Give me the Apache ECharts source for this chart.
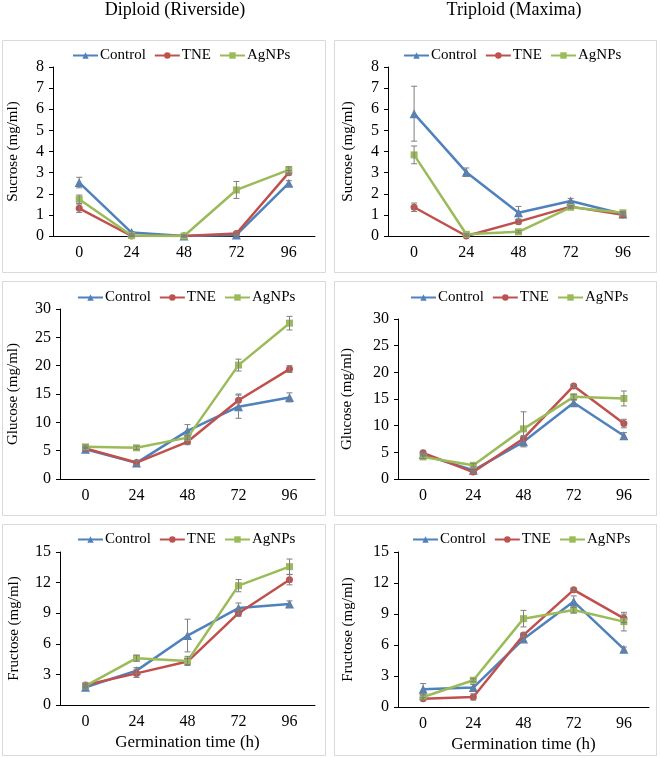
<!DOCTYPE html>
<html>
<head>
<meta charset="utf-8">
<script src="https://cdn.jsdelivr.net/npm/echarts@6/dist/echarts.min.js"></script>
<style>html,body{margin:0;padding:0;background:#fff}#c{width:660px;height:758px}</style>
</head>
<body>
<div id="c"></div>
<script>
// ---------- data ----------
const hours = ['0', '24', '48', '72', '96'];
const seriesNames = ['Control', 'TNE', 'AgNPs'];
const columnTitles = ['Diploid (Riverside)', 'Triploid (Maxima)'];
const yNames = ['Sucrose (mg/ml)', 'Glucose (mg/ml)', 'Fructose (mg/ml)'];
const xName = 'Germination time (h)';
const yMax = [8, 30, 15];
const yStep = [1, 5, 3];

// Sucrose, Diploid
const sucDipControl = [2.53, 0.16, 0.0, 0.05, 2.50];
const sucDipControlErr = [0.25, 0.05, 0.03, 0.05, 0.12];
const sucDipTNE = [1.31, 0.0, 0.0, 0.12, 3.00];
const sucDipTNEErr = [0.2, 0.03, 0.05, 0.08, 0.1];
const sucDipAgNPs = [1.74, 0.02, 0.0, 2.18, 3.13];
const sucDipAgNPsErr = [0.2, 0.03, 0.03, 0.4, 0.15];
// Sucrose, Triploid
const sucTriControl = [5.79, 3.02, 1.10, 1.66, 1.04];
const sucTriControlErr = [1.3, 0.2, 0.3, 0.12, 0.06];
const sucTriTNE = [1.36, 0.0, 0.68, 1.39, 1.00];
const sucTriTNEErr = [0.2, 0.03, 0.1, 0.05, 0.05];
const sucTriAgNPs = [3.84, 0.08, 0.20, 1.36, 1.10];
const sucTriAgNPsErr = [0.42, 0.03, 0.05, 0.05, 0.06];
// Glucose, Diploid
const gluDipControl = [5.26, 2.84, 8.5, 12.76, 14.4];
const gluDipControlErr = [0.3, 0.4, 1.1, 2.05, 0.8];
const gluDipTNE = [5.37, 2.9, 6.56, 13.9, 19.4];
const gluDipTNEErr = [0.3, 0.3, 0.5, 1.1, 0.6];
const gluDipAgNPs = [5.67, 5.5, 7.3, 20.1, 27.5];
const gluDipAgNPsErr = [0.3, 0.3, 0.4, 1.05, 1.2];
// Glucose, Triploid
const gluTriControl = [4.58, 1.63, 6.97, 14.3, 8.1];
const gluTriControlErr = [0.3, 0.3, 0.95, 0.5, 0.6];
const gluTriTNE = [4.9, 1.3, 7.6, 17.45, 10.4];
const gluTriTNEErr = [0.3, 0.3, 0.5, 0.3, 0.8];
const gluTriAgNPs = [4.14, 2.57, 9.4, 15.4, 15.1];
const gluTriAgNPsErr = [0.3, 0.3, 3.2, 0.5, 1.4];
// Fructose, Diploid
const fruDipControl = [1.74, 3.37, 6.81, 9.5, 9.9];
const fruDipControlErr = [0.15, 0.3, 1.6, 0.5, 0.3];
const fruDipTNE = [1.97, 3.1, 4.26, 9.0, 12.28];
const fruDipTNEErr = [0.15, 0.4, 0.3, 0.3, 0.5];
const fruDipAgNPs = [1.87, 4.59, 4.32, 11.7, 13.56];
const fruDipAgNPsErr = [0.15, 0.3, 0.45, 0.6, 0.75];
// Fructose, Triploid
const fruTriControl = [1.72, 1.88, 6.58, 10.2, 5.6];
const fruTriControlErr = [0.55, 0.3, 0.3, 0.55, 0.2];
const fruTriTNE = [0.81, 0.97, 6.96, 11.34, 8.58];
const fruTriTNEErr = [0.1, 0.3, 0.2, 0.15, 0.4];
const fruTriAgNPs = [0.97, 2.59, 8.55, 9.39, 8.26];
const fruTriAgNPsErr = [0.3, 0.15, 0.8, 0.3, 0.9];

const panelValues = [
  [[sucDipControl, sucDipTNE, sucDipAgNPs], [sucTriControl, sucTriTNE, sucTriAgNPs]],
  [[gluDipControl, gluDipTNE, gluDipAgNPs], [gluTriControl, gluTriTNE, gluTriAgNPs]],
  [[fruDipControl, fruDipTNE, fruDipAgNPs], [fruTriControl, fruTriTNE, fruTriAgNPs]]
];
const panelErrors = [
  [[sucDipControlErr, sucDipTNEErr, sucDipAgNPsErr], [sucTriControlErr, sucTriTNEErr, sucTriAgNPsErr]],
  [[gluDipControlErr, gluDipTNEErr, gluDipAgNPsErr], [gluTriControlErr, gluTriTNEErr, gluTriAgNPsErr]],
  [[fruDipControlErr, fruDipTNEErr, fruDipAgNPsErr], [fruTriControlErr, fruTriTNEErr, fruTriAgNPsErr]]
];

// ---------- layout / style ----------
const FONT = 'Liberation Serif';
const colors = ['#4F81BD', '#C0504D', '#9BBB59'];
const symbols = ['triangle', 'circle', 'rect'];
const symbolSizes = [9, 7, 7];
const grids = [
  [{left: 53, right: 345, top: 67, bottom: 522}, {left: 388, right: 11, top: 67, bottom: 522}],
  [{left: 60, right: 345, top: 309, bottom: 279}, {left: 398, right: 11, top: 319, bottom: 279}],
  [{left: 60, right: 345, top: 552, bottom: 53}, {left: 398, right: 11, top: 552, bottom: 51}]
];
const nameGaps = [[32, 32], [39, 43], [38, 42]];
const legendPos = [[{left: 72, top: 48}, {left: 403, top: 48}], [{left: 77, top: 290}, {left: 410, top: 290}], [{left: 77, top: 532}, {left: 412, top: 532}]];
const boxes = [[40, 272], [281, 515], [524, 755]];
const boxX = [[2, 325], [334, 656]];

const option = {
  animation: false,
  backgroundColor: '#ffffff',
  textStyle: {fontFamily: FONT},
  grid: [], xAxis: [], yAxis: [], series: [], legend: [], graphic: []
};

// panel borders
for (let r = 0; r < 3; r++) {
  for (let c = 0; c < 2; c++) {
    option.graphic.push({
      type: 'rect', silent: true, z: -10,
      shape: {x: boxX[c][0] + 0.5, y: boxes[r][0] + 0.5, width: boxX[c][1] - boxX[c][0], height: boxes[r][1] - boxes[r][0]},
      style: {fill: '#ffffff', stroke: '#D9D9D9', lineWidth: 1}
    });
  }
}
// column titles
[175, 514].forEach((cx, i) => {
  option.graphic.push({
    type: 'text', x: cx, y: 10,
    style: {text: columnTitles[i], font: '18px ' + FONT, fill: '#000', align: 'center', verticalAlign: 'middle'}
  });
});

function errRender(params, api) {
  const x = api.value(0), v = api.value(1), e = api.value(2);
  const top = api.coord([x, v + e]);
  const bot = api.coord([x, v - e]);
  const w = 3;
  const st = {stroke: '#7F7F7F', lineWidth: 1};
  return {
    type: 'group',
    children: [
      {type: 'line', shape: {x1: top[0], y1: top[1], x2: bot[0], y2: bot[1]}, style: st},
      {type: 'line', shape: {x1: top[0] - w, y1: top[1], x2: top[0] + w, y2: top[1]}, style: st},
      {type: 'line', shape: {x1: bot[0] - w, y1: bot[1], x2: bot[0] + w, y2: bot[1]}, style: st}
    ]
  };
}

let idx = 0;
for (let r = 0; r < 3; r++) {
  for (let c = 0; c < 2; c++) {
    option.grid.push(Object.assign({containLabel: false}, grids[r][c]));
    option.xAxis.push({
      type: 'category', gridIndex: idx, data: hours, boundaryGap: true,
      axisLine: {lineStyle: {color: '#000', width: 1}},
      axisTick: {show: false},
      axisLabel: {color: '#000', fontSize: 16, fontFamily: FONT, margin: 9},
      name: r === 2 ? xName : '', nameLocation: 'middle', nameGap: 29,
      nameTextStyle: {color: '#000', fontSize: 17, fontFamily: FONT}
    });
    option.yAxis.push({
      type: 'value', gridIndex: idx, min: 0, max: yMax[r], interval: yStep[r],
      axisLine: {show: true, lineStyle: {color: '#000', width: 1}},
      axisTick: {show: true, inside: false, length: 4, lineStyle: {color: '#000'}},
      splitLine: {show: false},
      axisLabel: {color: '#000', fontSize: 16, fontFamily: FONT, margin: 9},
      name: yNames[r], nameLocation: 'middle', nameGap: nameGaps[r][c], nameRotate: 90,
      nameTextStyle: {color: '#000', fontSize: 15, fontFamily: FONT}
    });
    option.legend.push({
      left: legendPos[r][c].left, top: legendPos[r][c].top, orient: 'horizontal', padding: 0,
      data: seriesNames, itemWidth: 25, itemHeight: 8, itemGap: 8,
      textStyle: {color: '#000', fontSize: 15, fontFamily: FONT, padding: [0, 0, 0, -3]},
      selectedMode: false
    });
    for (let s = 0; s < 3; s++) {
      const vals = panelValues[r][c][s];
      const errs = panelErrors[r][c][s];
      option.series.push({
        type: 'line', name: seriesNames[s], xAxisIndex: idx, yAxisIndex: idx,
        data: vals, symbol: symbols[s], symbolSize: symbolSizes[s], showSymbol: true,
        lineStyle: {color: colors[s], width: 2.5},
        itemStyle: {color: colors[s]}, z: 2 + s
      });
      option.series.push({
        type: 'custom', name: seriesNames[s] + ' err', xAxisIndex: idx, yAxisIndex: idx,
        renderItem: errRender, z: 10,
        data: vals.map((v, i) => [i, v, errs[i]]),
        encode: {x: 0, y: 1}
      });
    }
    idx++;
  }
}

const chart = echarts.init(document.getElementById('c'), null, {renderer: 'canvas'});
chart.setOption(option);
</script>
</body>
</html>
